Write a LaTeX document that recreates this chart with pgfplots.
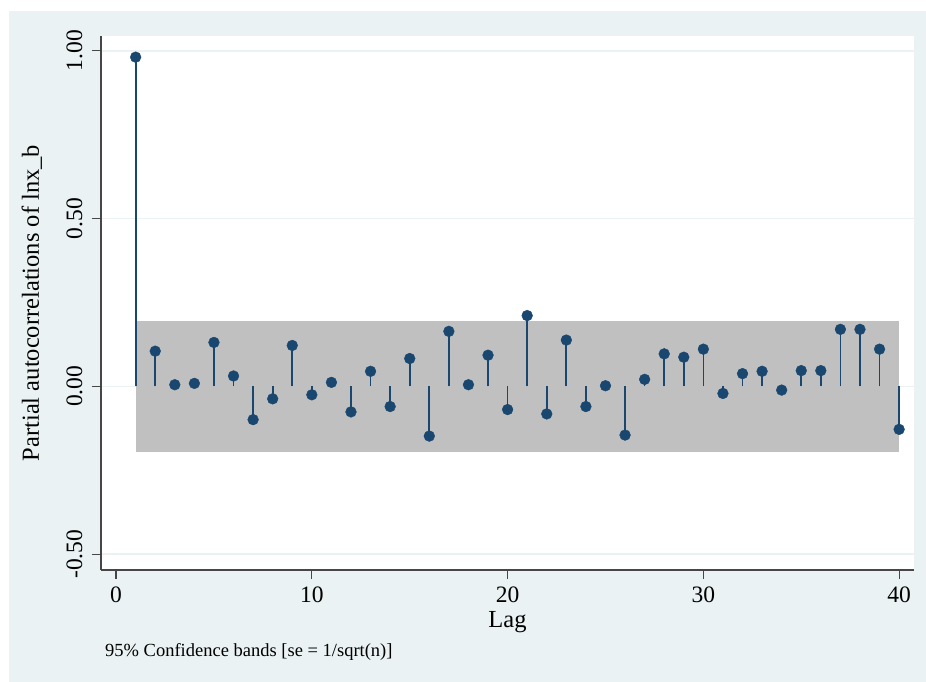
\documentclass[border=0pt]{standalone}
\usepackage{fontspec}
\setmainfont{Liberation Serif}
\usepackage{pgfplots}
\usepackage{pgfplotstable}
\pgfplotsset{compat=1.18}
\definecolor{ltbg}{RGB}{234,242,243}
\definecolor{navy}{RGB}{26,71,111}
\definecolor{band}{RGB}{192,192,192}
\definecolor{axgray}{RGB}{70,70,70}
\pgfplotstableread{
lag pac
1 0.981
2 0.105
3 0.005
4 0.009
5 0.131
6 0.031
7 -0.099
8 -0.037
9 0.122
10 -0.025
11 0.012
12 -0.076
13 0.045
14 -0.060
15 0.083
16 -0.148
17 0.164
18 0.005
19 0.093
20 -0.069
21 0.211
22 -0.082
23 0.138
24 -0.060
25 0.002
26 -0.145
27 0.021
28 0.097
29 0.087
30 0.111
31 -0.021
32 0.038
33 0.045
34 -0.011
35 0.047
36 0.047
37 0.170
38 0.170
39 0.111
40 -0.128
}\pacdata
\pgfplotstableread{
lag lo hi
1 -0.196 0.196
40 -0.196 0.196
}\banddata
\begin{document}
\begin{tikzpicture}[x=1pt,y=1pt]
\useasboundingbox (0,0) rectangle (926,682);
\fill[white] (0,0) rectangle (926,682);
\fill[ltbg] (9,0) rectangle (926,671);
\begin{axis}[
  at={(101pt,112pt)}, anchor=south west,
  scale only axis, width=813pt, height=534pt,
  xmin=-0.77, xmax=40.76, ymin=-0.547, ymax=1.044,
  axis x line*=bottom, axis y line*=left,
  axis line style={draw=axgray, line width=1.2pt, -},
  axis background/.style={fill=white},
  xtick={0,10,20,30,40},
  ytick={-0.5,0,0.5,1},
  tick align=outside, major tick length=9pt,
  tick style={draw=axgray, line width=1.2pt},
  ymajorgrids, major grid style={draw=ltbg, line width=1.6pt},
  /pgf/number format/assume math mode=true,
  yticklabel shift={6pt},
  xticklabel shift={4pt},
  yticklabel style={/pgf/number format/.cd, fixed, fixed zerofill, precision=2, /tikz/.cd, rotate=90, anchor=south, font=\fontsize{23.5}{28}\selectfont},
  xticklabel style={font=\fontsize{23.5}{28}\selectfont},
  xlabel={Lag},
  ylabel={Partial autocorrelations of lnx\_b},
  every axis x label/.style={at={(axis description cs:0.5,-0.1086)}, anchor=base, font=\fontsize{24.5}{29}\selectfont},
  every axis y label/.style={at={(axis description cs:-0.085,0.5)}, rotate=90, anchor=center, font=\fontsize{24.5}{29}\selectfont},
  clip=false,
]
\addplot[draw=none, fill=band, forget plot] table[x=lag, y=hi] {\banddata} -- (axis cs:40,-0.196) -- (axis cs:1,-0.196) -- cycle;
\addplot[ycomb, color=navy, line width=1.7pt, mark=*, mark size=5.4pt, mark options={fill=navy, draw=navy, line width=0.4pt}] table[x=lag, y=pac] {\pacdata};
\end{axis}
\node[anchor=base west, inner sep=0pt, font=\fontsize{18.5}{22}\selectfont] at (105,25.3) {95\% Confidence bands [se = 1/sqrt(n)]};
\end{tikzpicture}
\end{document}
